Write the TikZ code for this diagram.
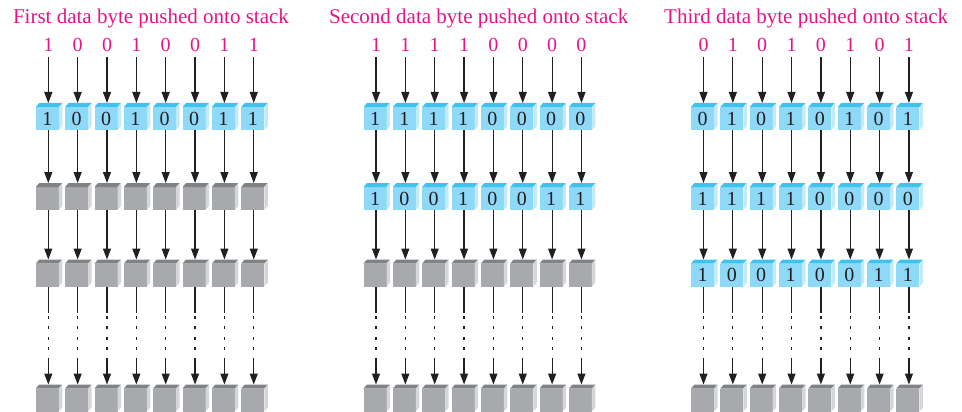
\documentclass[tikz,border=0pt]{standalone}
\usepackage{fontspec}
\setmainfont{Liberation Serif}
\usetikzlibrary{arrows.meta,calc}
\definecolor{mag}{RGB}{232,18,135}
\definecolor{cyfront}{RGB}{142,216,248}
\definecolor{cytop}{RGB}{62,195,238}
\definecolor{cyside}{RGB}{192,235,251}
\definecolor{gyfront}{RGB}{167,169,172}
\definecolor{gytop}{RGB}{128,130,133}
\definecolor{gyside}{RGB}{212,214,215}
\definecolor{ink}{RGB}{35,31,32}
\tikzset{
  titletext/.style={text=mag, anchor=base, inner sep=0pt, font=\fontsize{21}{21}\selectfont},
  bittext/.style={text=mag, anchor=base, inner sep=0pt, font=\fontsize{20}{20}\selectfont},
  cellbase/.style={minimum width=23pt, minimum height=23pt, inner sep=0pt, outer sep=0pt,
    text=ink, font=\fontsize{20}{20}\selectfont},
  cy/.style={cellbase, fill=cyfront},
  gy/.style={cellbase, fill=gyfront},
  cytopface/.style={fill=cytop},
  cysideface/.style={fill=cyside},
  gytopface/.style={fill=gytop},
  gysideface/.style={fill=gyside},
  shaft/.style={draw=ink, line width=1.2pt},
  arr/.style={draw=ink, line width=1.2pt, -{Triangle[length=11pt,width=8pt]}},
  dotseg/.style={draw=ink, line width=1.2pt, dash pattern=on 3pt off 7.5pt},
}
% #1 panel, #2 row, #3 style (cy/gy), #4 comma list of bits (empty entries for gray)
\newcommand\mkrow[4]{%
  \pgfmathsetmacro\rowtop{{103,183,259.5,384.5}[#2-1]}%
  \foreach \b [count=\c] in {#4} {%
    \pgfmathsetmacro\cx{\csname px#1\endcsname + (\c-1)*29.35}%
    \node[#3] (p#1r#2c\c) at (\cx-1, \rowtop+15.5) {\b};
    \fill[#3topface] (p#1r#2c\c.north west) -- ++(3.5,-4) -- ++(23,0) -- (p#1r#2c\c.north east) -- cycle;
    \fill[#3sideface] (p#1r#2c\c.north east) -- ++(3.5,-4) -- ++(0,23) -- (p#1r#2c\c.south east) -- cycle;
    \coordinate (p#1r#2c\c top) at (\cx, \rowtop);
    \coordinate (p#1r#2c\c bot) at (\cx, \rowtop+27);
  }%
}
\newcommand\mkbits[2]{%
  \foreach \b [count=\c] in {#2} {%
    \pgfmathsetmacro\cx{\csname px#1\endcsname + (\c-1)*29.35}%
    \node[bittext] (p#1d\c) at (\cx, 51.7) {\b};
    \coordinate (p#1d\c s) at (\cx, 57);
  }%
}
\newcommand\mkarrows[1]{%
  \foreach \c in {1,...,8} {%
    \draw[arr] (p#1d\c s) -- (p#1r1c\c top);
    \draw[arr] (p#1r1c\c bot) -- (p#1r2c\c top);
    \draw[arr] (p#1r2c\c bot) -- (p#1r3c\c top);
    \coordinate (p#1e\c a) at ($(p#1r3c\c bot)+(0,26.5)$);
    \coordinate (p#1e\c b) at ($(p#1r3c\c bot)+(0,29)$);
    \coordinate (p#1e\c c) at ($(p#1r3c\c bot)+(0,64)$);
    \coordinate (p#1e\c d) at ($(p#1r3c\c bot)+(0,71)$);
    \draw[shaft] (p#1r3c\c bot) -- (p#1e\c a);
    \draw[dotseg] (p#1e\c b) -- (p#1e\c c);
    \draw[arr] (p#1e\c d) -- (p#1r4c\c top);
  }%
}
\def\pxi{48.3}\def\pxii{376}\def\pxiii{703.5}
\begin{document}
\begin{tikzpicture}[x=1pt,y=-1pt]
\useasboundingbox (0,0) rectangle (962,412);
% titles
\node[titletext] (t1) at (151,24) {First data byte pushed onto stack};
\node[titletext] (t2) at (478.7,24) {Second data byte pushed onto stack};
\node[titletext] (t3) at (806.2,24) {Third data byte pushed onto stack};
% panel 1
\mkbits{i}{1,0,0,1,0,0,1,1}
\mkrow{i}{1}{cy}{1,0,0,1,0,0,1,1}
\mkrow{i}{2}{gy}{,,,,,,,}
\mkrow{i}{3}{gy}{,,,,,,,}
\mkrow{i}{4}{gy}{,,,,,,,}
\mkarrows{i}
% panel 2
\mkbits{ii}{1,1,1,1,0,0,0,0}
\mkrow{ii}{1}{cy}{1,1,1,1,0,0,0,0}
\mkrow{ii}{2}{cy}{1,0,0,1,0,0,1,1}
\mkrow{ii}{3}{gy}{,,,,,,,}
\mkrow{ii}{4}{gy}{,,,,,,,}
\mkarrows{ii}
% panel 3
\mkbits{iii}{0,1,0,1,0,1,0,1}
\mkrow{iii}{1}{cy}{0,1,0,1,0,1,0,1}
\mkrow{iii}{2}{cy}{1,1,1,1,0,0,0,0}
\mkrow{iii}{3}{cy}{1,0,0,1,0,0,1,1}
\mkrow{iii}{4}{gy}{,,,,,,,}
\mkarrows{iii}
\end{tikzpicture}
\end{document}
